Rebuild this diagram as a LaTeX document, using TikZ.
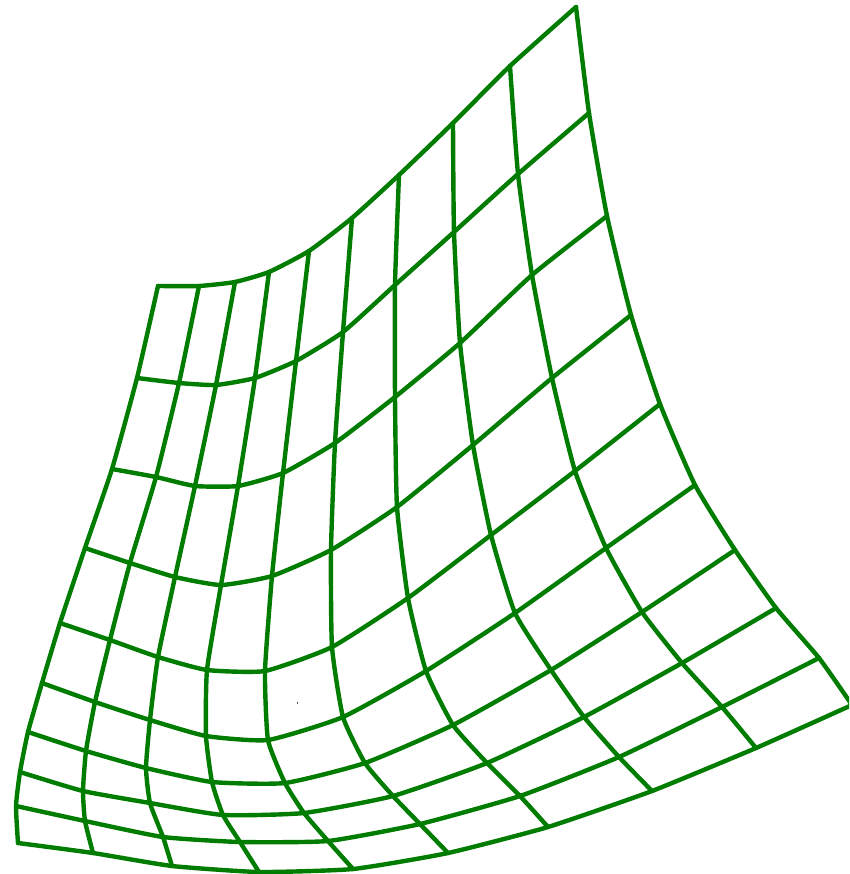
\documentclass[tikz,border=0pt]{standalone}
\definecolor{meshgreen}{RGB}{0,125,0}
\tikzset{meshline/.style={draw=meshgreen,line width=4.4pt,line join=round,line cap=round}}
\begin{document}
\begin{tikzpicture}[x=1pt,y=-1pt]
\useasboundingbox (0,0) rectangle (849,874);
\clip (0,0) rectangle (849,874);
\fill[white] (0,0) rectangle (849,874);
\foreach \r/\pts in {
0/{(158,286),(199,286),(235,282),(269,272),(309,251),(352,218),(399,175),(453,123),(510,66),(576,7)},
1/{(137,378),(179,383),(216,385),(255,378),(296,361),(343,332),(395,285),(454,232),(518,174),(589,113)},
2/{(112,469),(156,477),(195,486),(238,486),(283,473),(335,443),(395,397),(460,343),(532,275),(607,216)},
3/{(85,548),(130,563),(175,577),(221,585),(272,576),(331,550),(397,507),(473,445),(552,378),(631,315)},
4/{(60,623),(110,640),(158,657),(207,670),(265,671),(332,647),(408,598),(491,535),(575,471),(660,404)},
5/{(42,683),(95,702),(150,720),(206,736),(268,740),(343,717),(426,671),(515,613),(606,548),(695,485)},
6/{(28,732),(86,751),(146,768),(212,782),(285,783),(365,763),(453,725),(551,670),(642,612),(735,550)},
7/{(20,772),(83,791),(150,803),(223,815),(304,813),(393,796),(487,763),(584,717),(682,663),(776,608)},
8/{(16,806),(85,821),(163,837),(240,842),(328,841),(420,824),(520,796),(619,757),(722,707),(819,658)},
9/{(18,843),(93,853),(172,866),(259,872),(353,869),(448,853),(548,827),(652,791),(756,748),(852,705)}}{
  \foreach \p [count=\c from 0] in \pts {\path \p coordinate (p-\r-\c);}
}
\foreach \r in {0,...,9}{
  \gdef\lst{}
  \foreach \c in {0,...,9}{\xdef\lst{\lst (p-\r-\c)}}
  \edef\cmd{\noexpand\draw[meshline] plot[smooth,tension=.3] coordinates {\lst};}
  \cmd
}
\foreach \c in {0,...,9}{
  \gdef\lst{}
  \foreach \r in {0,...,9}{\xdef\lst{\lst (p-\r-\c)}}
  \edef\cmd{\noexpand\draw[meshline] plot[smooth,tension=.3] coordinates {\lst};}
  \cmd
}
\fill[black!70] (296.5,701.5) rectangle (298,704);
\end{tikzpicture}
\end{document}
